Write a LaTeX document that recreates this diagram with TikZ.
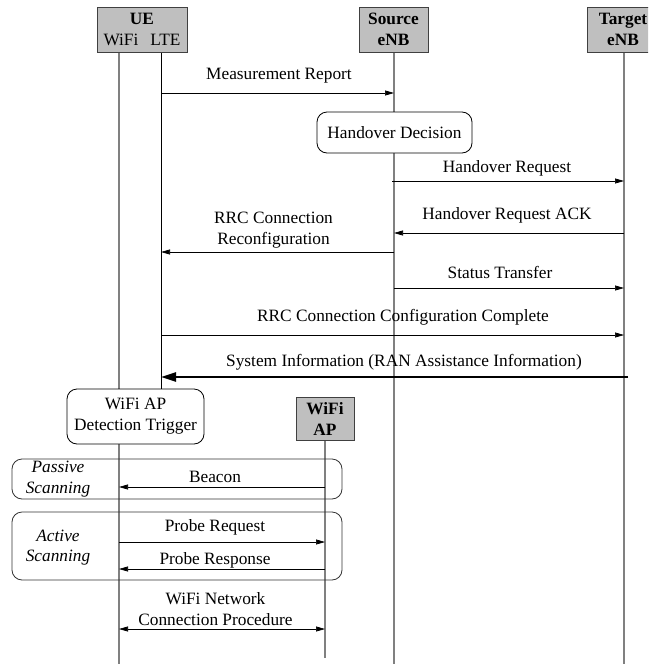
\documentclass[tikz,border=0pt]{standalone}
\usepackage{fontspec}
\setmainfont{Liberation Serif}
\usetikzlibrary{arrows.meta}
\begin{document}
\begin{tikzpicture}[x=1pt,y=-1pt,
  font=\fontsize{17.3}{21}\selectfont,
  hdr/.style={draw=black!75, line width=0.9pt, fill=gray!50, inner sep=0pt, align=center, font=\fontsize{17.3}{21}\selectfont\bfseries},
  decbox/.style={draw=black, rounded corners=10pt, fill=white, line width=0.8pt, inner sep=0pt, align=center},
  grp/.style={draw=black!80, rounded corners=10pt, line width=0.8pt},
  life/.style={draw=gray, line width=1.4pt},
  ltelife/.style={draw=black, line width=0.8pt},
  msg/.style={-{Triangle[length=9pt,width=5pt]}, line width=0.7pt},
  dmsg/.style={{Triangle[length=9pt,width=5pt]}-{Triangle[length=9pt,width=5pt]}, line width=0.7pt},
  bigmsg/.style={-{Triangle[length=15pt,width=9pt]}, line width=2.6pt},
  lbl/.style={inner sep=0pt, align=center}]
\useasboundingbox (0,0) rectangle (648,664);
\clip (0,0) rectangle (648,664);

% lifeline coordinates
\coordinate (wifiTop) at (119,52);
\coordinate (wifiBot) at (119,664);
\coordinate (lteTop) at (161,52);
\coordinate (lteBot) at (161,390);
\coordinate (srcTop) at (394,52);
\coordinate (srcBot) at (394,664);
\coordinate (tgtTop) at (624,52);
\coordinate (tgtBot) at (624,664);
\coordinate (apTop) at (325,440);
\coordinate (apBot) at (325,658);

\draw[life] (wifiTop) -- (wifiBot);
\draw[ltelife] (lteTop) -- (lteBot);
\draw[life] (srcTop) -- (srcBot);
\draw[life] (tgtTop) -- (tgtBot);
\draw[life] (apTop) -- (apBot);

% headers
\node[hdr, minimum width=90pt, minimum height=45pt] (ue) at (142,29.5) {UE\\{\mdseries WiFi\hspace{12pt}LTE}};
\node[hdr, minimum width=69pt, minimum height=45pt] (src) at (393.5,29.5) {Source\\eNB};
\node[hdr, minimum width=72pt, minimum height=45pt] (tgt) at (623,29.5) {Target\\eNB};

% Measurement report
\coordinate (m1a) at (161,93); \coordinate (m1b) at (394,93);
\draw[msg] (m1a) -- (m1b);
\node[lbl] (m1t) at (279,76) {Measurement Report};

% Handover decision
\node[decbox, minimum width=155pt, minimum height=41pt] (hod) at (394.5,132.5) {Handover Decision};

% Handover Request
\coordinate (m2a) at (392,181); \coordinate (m2b) at (624,181);
\draw[msg] (m2a) -- (m2b);
\node[lbl] (m2t) at (507,168) {Handover Request};

% Handover Request ACK
\coordinate (m3a) at (624,233); \coordinate (m3b) at (394,233);
\draw[msg] (m3a) -- (m3b);
\node[lbl] (m3t) at (507,215) {Handover Request ACK};

% RRC Connection Reconfiguration
\coordinate (m4a) at (394,252); \coordinate (m4b) at (161,252);
\draw[msg] (m4a) -- (m4b);
\node[lbl] (m4t) at (273.5,230) {RRC Connection\\Reconfiguration};

% Status Transfer
\coordinate (m5a) at (394,288); \coordinate (m5b) at (624,288);
\draw[msg] (m5a) -- (m5b);
\node[lbl] (m5t) at (500,272) {Status Transfer};

% RRC Connection Configuration Complete
\coordinate (m6a) at (161,335); \coordinate (m6b) at (624,335);
\draw[msg] (m6a) -- (m6b);
\node[lbl] (m6t) at (403,317) {RRC Connection Configuration Complete};

% System Information
\coordinate (m7a) at (628,377); \coordinate (m7b) at (161,377);
\draw[bigmsg] (m7a) -- (m7b);
\node[lbl] (m7t) at (404,362) {System Information (RAN Assistance Information)};

% WiFi AP detection trigger
\node[decbox, minimum width=137pt, minimum height=55pt] (trig) at (135.5,416.5) {WiFi AP\\Detection Trigger};

% WiFi AP header
\node[hdr, minimum width=58pt, minimum height=43pt] (ap) at (325,418.5) {WiFi\\AP};

% Passive scanning group
\draw[grp] (12,459) rectangle (342,499);
\node[lbl, font=\fontsize{17.3}{20.5}\selectfont\itshape] (pass) at (58,479) {Passive\\Scanning};
\coordinate (b1a) at (325,487); \coordinate (b1b) at (119,487);
\draw[msg] (b1a) -- (b1b);
\node[lbl] (b1t) at (215,477) {Beacon};

% Active scanning group
\draw[grp] (12,512) rectangle (342,580);
\node[lbl, font=\fontsize{17.3}{20.5}\selectfont\itshape] (act) at (58,547.5) {Active\\Scanning};
\coordinate (p1a) at (119,542); \coordinate (p1b) at (325,542);
\draw[msg] (p1a) -- (p1b);
\node[lbl] (p1t) at (215,527) {Probe Request};
\coordinate (p2a) at (325,569); \coordinate (p2b) at (119,569);
\draw[msg] (p2a) -- (p2b);
\node[lbl] (p2t) at (215,560) {Probe Response};

% WiFi network connection
\coordinate (c1a) at (119,629); \coordinate (c1b) at (325,629);
\draw[dmsg] (c1a) -- (c1b);
\node[lbl] (c1t) at (215.5,609) {WiFi Network\\Connection Procedure};
\end{tikzpicture}
\end{document}
